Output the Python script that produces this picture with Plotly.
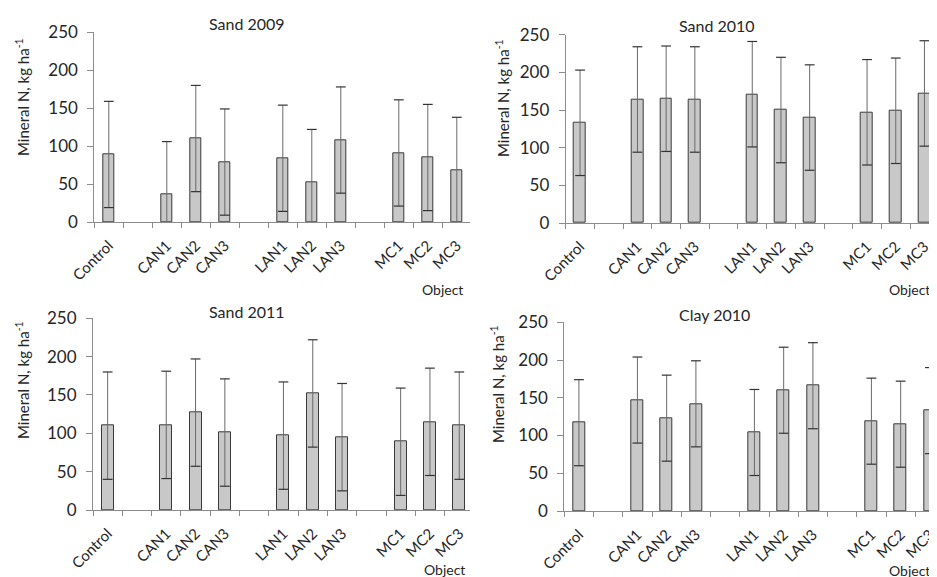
import plotly.graph_objects as go

categories = ["Control", "", "CAN1", "CAN2", "CAN3", "", "LAN1", "LAN2", "LAN3", "", "MC1", "MC2", "MC3"]

titles = ["Sand 2009", "Sand 2010", "Sand 2011", "Clay 2010"]

sand2009 = [89, None, 36, 110, 79, None, 84, 52, 108, None, 91, 85, 68]
sand2009_err = [70, None, 70, 70, 70, None, 70, 70, 70, None, 70, 70, 70]

sand2010 = [133, None, 164, 165, 164, None, 171, 150, 140, None, 147, 149, 172]
sand2010_err = [70, None, 70, 70, 70, None, 70, 70, 70, None, 70, 70, 70]

sand2011 = [110, None, 111, 127, 101, None, 97, 152, 95, None, 89, 115, 110]
sand2011_err = [70, None, 70, 70, 70, None, 70, 70, 70, None, 70, 70, 70]

clay2010 = [117, None, 147, 123, 142, None, 104, 160, 166, None, 119, 115, 133]
clay2010_err = [57, None, 57, 57, 57, None, 57, 57, 57, None, 57, 57, 57]

y_ticks = [0, 50, 100, 150, 200, 250]
y_title = "Mineral N, kg ha<sup>-1</sup>"
x_title = "Object"

series = [sand2009, sand2010, sand2011, clay2010]
errors = [sand2009_err, sand2010_err, sand2011_err, clay2010_err]

W, H = 937, 577
OFF = 8  # page body margin
FONT = "Lato"
TXT = "#262626"
AX = "#8c8c8c"

# panel geometry in viewport pixels: (x of y-axis, category width, x end, y of 0, y of 250)
panels = [
    (94.3, 29.0, 470.0, 222.0, 32.3),
    (565.7, 28.7, 937.0, 223.0, 34.7),
    (93.0, 29.3, 470.0, 510.0, 318.3),
    (564.3, 29.25, 937.0, 511.0, 322.3),
]
title_pos = [(247, 23), (717, 26), (247, 311), (714, 314)]
ytitle_pos = [(22, 97), (502, 98), (22, 380), (497, 384)]
# right edge and vertical centre of the "Object" labels
xtitle_pos = [(465, 289), (932, 289), (467, 569), (932, 570)]


def px(x):
    return (x - OFF) / W


def py(y):
    return 1 - (y - OFF) / H


fig = go.Figure()
xs = list(range(len(categories)))
lab_vals = [k for k, c in enumerate(categories) if c]
lab_text = [c for c in categories if c]
annotations = []
for i in range(4):
    x0, cw, xe, y0, y250 = panels[i]
    xa = "x" if i == 0 else f"x{i+1}"
    ya = "y" if i == 0 else f"y{i+1}"
    vals, errs = series[i], errors[i]
    fig.add_trace(go.Bar(
        x=xs, y=vals, xaxis=xa, yaxis=ya, width=0.41,
        marker=dict(color="#c8c8c8", line=dict(color="#3a3a3a", width=1)),
        error_y=dict(type="data", array=errs, color="#6a6a6a", thickness=1, width=0),
        showlegend=False, hoverinfo="x+y",
    ))
    # error-bar caps (darker than the stems)
    cap_x, cap_y = [], []
    for k, (v, e) in enumerate(zip(vals, errs)):
        if v is None:
            continue
        cap_x += [k, k]
        cap_y += [v + e, v - e]
    fig.add_trace(go.Scatter(
        x=cap_x, y=cap_y, xaxis=xa, yaxis=ya, mode="markers",
        marker=dict(symbol="line-ew", size=7, line=dict(color="#333333", width=1.2)),
        showlegend=False, hoverinfo="skip", cliponaxis=False,
    ))
    rng_end = -0.5 + (xe - x0) / cw
    xkey = "xaxis" if i == 0 else f"xaxis{i+1}"
    ykey = "yaxis" if i == 0 else f"yaxis{i+1}"
    fig.update_layout(**{
        xkey: dict(
            domain=[px(x0), min(px(xe), 1.0)], anchor=ya, range=[-0.5, rng_end], automargin=False,
            tickmode="array", tickvals=lab_vals, ticktext=lab_text, tickangle=-45,
            ticks="outside", ticklen=5, tickcolor="rgba(0,0,0,0)", ticklabelstandoff=3,
            showline=True, linecolor=AX, linewidth=1,
            showgrid=False, zeroline=False,
            tickfont=dict(family=FONT, size=15, color=TXT),
            minor=dict(tickmode="array", tickvals=[k - 0.5 for k in range(13)],
                       ticks="outside", ticklen=5, tickcolor=AX, showgrid=False),
        ),
        ykey: dict(
            domain=[py(y0), py(y250)], anchor=xa, range=[0, 250], automargin=False,
            tickvals=y_ticks, ticks="outside", ticklen=6, tickcolor=AX, ticklabelstandoff=6,
            showline=True, linecolor=AX, linewidth=1, showgrid=False, zeroline=False,
            tickfont=dict(family=FONT, size=17, color=TXT),
        ),
    })
    tx, ty = title_pos[i]
    annotations.append(dict(text=titles[i], x=px(tx), y=py(ty), xref="paper", yref="paper",
                            showarrow=False, xanchor="center", yanchor="middle",
                            font=dict(family=FONT, size=16, color=TXT)))
    ax_, ay_ = ytitle_pos[i]
    annotations.append(dict(text=y_title, x=px(ax_), y=py(ay_), xref="paper", yref="paper",
                            showarrow=False, xanchor="center", yanchor="middle", textangle=-90,
                            font=dict(family=FONT, size=15, color=TXT)))
    bx, by = xtitle_pos[i]
    annotations.append(dict(text=x_title, x=px(bx), y=py(by), xref="paper", yref="paper",
                            showarrow=False, xanchor="right", yanchor="middle",
                            font=dict(family=FONT, size=14, color=TXT)))

fig.update_layout(
    width=W, height=H, margin=dict(l=0, r=0, t=0, b=0, autoexpand=False),
    paper_bgcolor="white", plot_bgcolor="white",
    annotations=annotations, bargap=0,
)
fig.write_html("out.html")
